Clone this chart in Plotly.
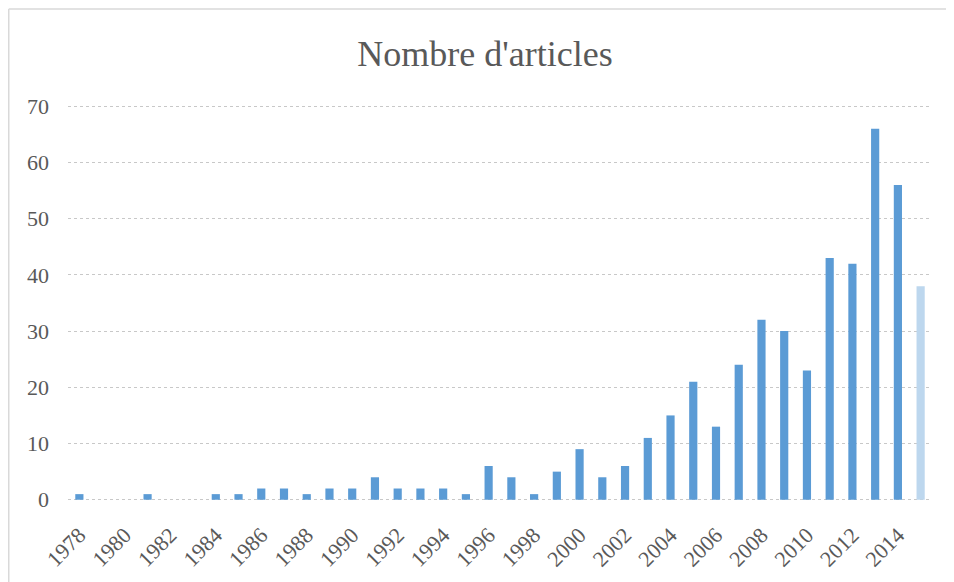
import plotly.graph_objects as go

years = list(range(1978, 2016))
articles = [1, 0, 0, 1, 0, 0, 1, 1, 2, 2, 1, 2, 2, 4, 2, 2, 2, 1, 6, 4, 1, 5, 9, 4, 6,
            11, 15, 21, 13, 24, 32, 30, 23, 43, 42, 66, 56, 38]
tick_years = list(range(1978, 2015, 2))
y_ticks = [0, 10, 20, 30, 40, 50, 60, 70]

main_color = "#5B9BD5"
light_color = "#BDD7EE"
colors = [main_color] * (len(years) - 1) + [light_color]

W, H = 946, 574
ML, MR, MT, MB = 60, 22, 96, 80
PW, PH = W - ML - MR, H - MT - MB

fig = go.Figure()
fig.add_trace(go.Bar(x=years, y=articles, marker=dict(color=colors, line=dict(width=0)),
                     width=0.36, showlegend=False))

font_family = "Liberation Serif, Times New Roman, serif"
fig.update_layout(
    width=W, height=H,
    margin=dict(l=ML, r=MR, t=MT, b=MB, autoexpand=False),
    paper_bgcolor="white", plot_bgcolor="white",
    title=dict(text="Nombre d'articles", x=477 / W, xanchor="center",
               y=1 - 45 / H, yanchor="middle",
               font=dict(family=font_family, size=36, color="#595959")),
    font=dict(family=font_family, color="#595959"),
    xaxis=dict(range=[1977.5, 2015.5], tickmode="array", tickvals=tick_years,
               ticktext=[str(y) for y in tick_years], tickangle=-45,
               tickfont=dict(size=22, color="#595959"), showgrid=False,
               zeroline=False, showline=False, ticks="", ticklabelstandoff=15),
    yaxis=dict(range=[-0.4, 70.4], tickmode="array", tickvals=y_ticks,
               tickfont=dict(size=22, color="#595959"), showgrid=True,
               gridcolor="#C8C8C8", griddash="dot", gridwidth=1,
               zeroline=False, showline=False, ticks="", ticklabelstandoff=18),
    shapes=[
        dict(type="line", xref="paper", yref="paper", x0=(0.75 - ML) / PW, x1=1.1,
             y0=(PH + MT - 1) / PH, y1=(PH + MT - 1) / PH,
             line=dict(color="#D9D9D9", width=1.5)),
        dict(type="line", xref="paper", yref="paper", x0=(0.75 - ML) / PW, x1=(0.75 - ML) / PW,
             y0=(PH + MT - 1) / PH, y1=-0.3, line=dict(color="#D9D9D9", width=1.5)),
    ],
)
fig.write_html("out.html")
